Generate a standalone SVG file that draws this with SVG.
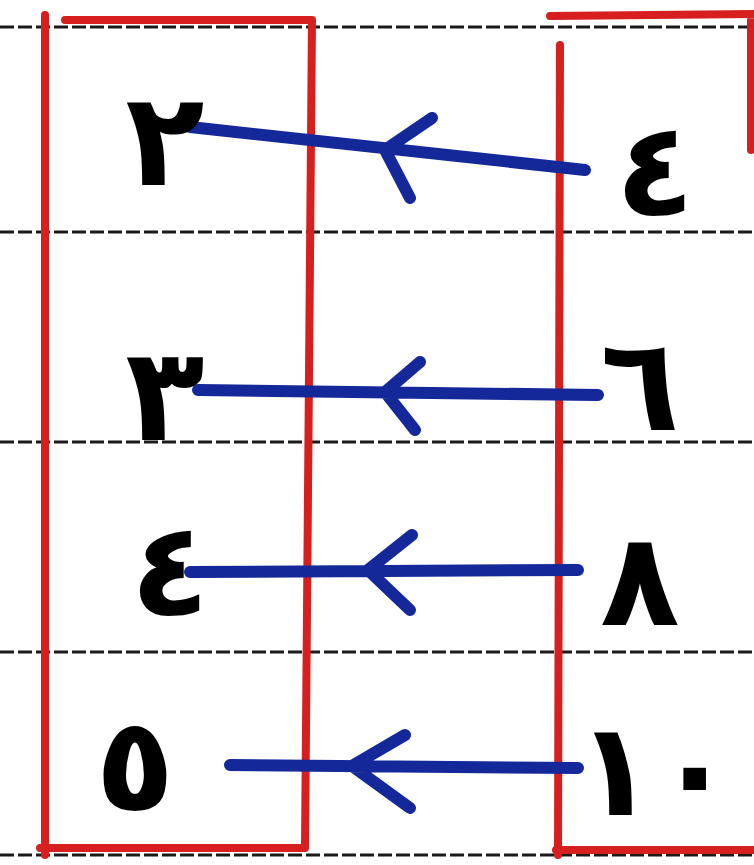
<svg xmlns="http://www.w3.org/2000/svg" width="754" height="865" viewBox="0 0 754 865">
<style>
.rule{stroke:#1a1a1a;stroke-width:3;stroke-dasharray:14 4;fill:none}
.box{stroke:#d81f1f;stroke-width:8;fill:none;stroke-linecap:round;stroke-linejoin:round}
.arr{stroke:#14289a;stroke-width:12;fill:none;stroke-linecap:round;stroke-linejoin:round}
.num{font-family:"DejaVu Sans",sans-serif;font-weight:bold;font-size:130px;fill:#000;text-anchor:middle;dominant-baseline:central}
</style>
<rect width="754" height="865" fill="#ffffff"/>
<g id="rules">
<line class="rule" x1="0" y1="27" x2="754" y2="27"/>
<line class="rule" x1="0" y1="232" x2="754" y2="232"/>
<line class="rule" x1="0" y1="442" x2="754" y2="442"/>
<line class="rule" x1="0" y1="652" x2="754" y2="652"/>
<line class="rule" x1="0" y1="855" x2="754" y2="855"/>
</g>
<g id="domain">
<path class="box" d="M45,15 L45,855 M65,20 L312,20 L305,848 L40,848"/>
</g>
<g id="codomain">
<path class="box" d="M560,45 L558,855 M550,16 L754,14 M556,850 L754,850 M751,20 L751,150"/>
</g>
<g id="connectors">
<path class="arr" d="M585,170 L190,127 M432,118 L385,150 L410,198"/>
<path class="arr" d="M598,395 L198,390 M420,362 L385,392 L415,430"/>
<path class="arr" d="M578,570 L190,572 M412,535 L368,570 L410,610"/>
<path class="arr" d="M578,768 L230,765 M405,735 L352,766 L410,808"/>
</g>
<g id="n2"><text class="num" x="165" y="140">٢</text></g>
<g id="n3"><text class="num" x="165" y="395">٣</text></g>
<g id="n4"><text class="num" x="170" y="570">٤</text></g>
<g id="n5"><text class="num" x="135" y="765">٥</text></g>
<g id="m4"><text class="num" x="655" y="170">٤</text></g>
<g id="m6"><text class="num" x="640" y="385">٦</text></g>
<g id="m8"><text class="num" x="640" y="580">٨</text></g>
<g id="m10"><text class="num" x="655" y="770">١٠</text></g>
</svg>
